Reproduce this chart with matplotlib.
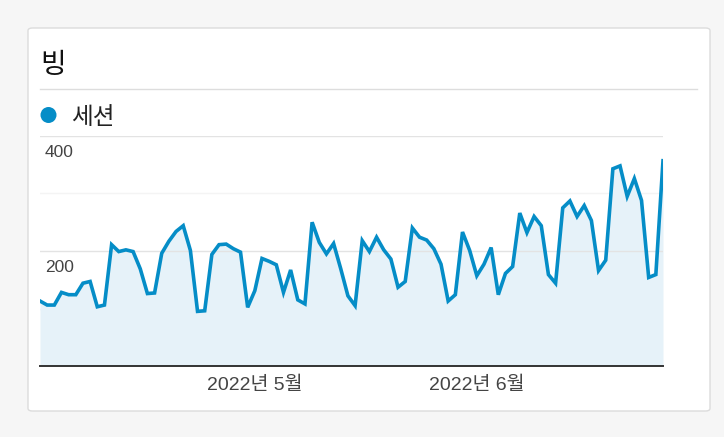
import matplotlib
matplotlib.use("Agg")
import matplotlib.pyplot as plt
from matplotlib.patches import FancyBboxPatch, Ellipse
from matplotlib.lines import Line2D
import pandas as pd

# ---- data ----
start_date = "2022-04-01"
sessions = [113, 106, 106, 128, 124, 124, 144, 147, 103, 106,
            211, 199, 202, 199, 169, 126, 127, 196, 217, 234,
            244, 201, 95, 96, 194, 211, 212, 204, 198, 102,
            131, 187, 182, 176, 128, 167, 115, 108, 250, 215,
            195, 213, 169, 122, 105, 218, 199, 224, 202, 186,
            137, 147, 240, 224, 219, 204, 177, 113, 124, 233,
            201, 157, 177, 206, 124, 161, 173, 266, 232, 260,
            244, 159, 144, 275, 287, 260, 279, 253, 166, 184,
            343, 348, 295, 326, 288, 154, 159, 357]
tick_dates = ["2022-05-01", "2022-06-01"]
tick_labels = ["2022년 5월", "2022년 6월"]
ytick_vals = [400, 200]
ytick_labels = ["400", "200"]
title = "빙"
series_name = "세션"

dates = pd.date_range(start_date, periods=len(sessions), freq="D")

LINE = "#058dc7"
FILL = "#e6f2f9"
TXT = "#444444"
FONT = ["Liberation Sans", "Noto Sans CJK KR", "DejaVu Sans"]
plt.rcParams["font.family"] = FONT

W, H = 724, 437
fig = plt.figure(figsize=(W / 100, H / 100), dpi=100, facecolor="#f6f6f6")

def fx(px):
    return px / W

def fy(py):
    return 1 - py / H

# card
card = FancyBboxPatch((fx(28), fy(411)), fx(710) - fx(28), fy(28) - fy(411),
                      boxstyle="round,pad=0,rounding_size=0.006",
                      transform=fig.transFigure, facecolor="white",
                      edgecolor="#dcdcdc", linewidth=1.0, zorder=-10)
fig.patches.append(card)

# title
fig.text(fx(40), fy(65), title, fontsize=20, color="#111111",
         va="center", ha="left", family=["Noto Sans CJK KR"])
# divider
fig.add_artist(Line2D([fx(40), fx(697)], [fy(88.5), fy(88.5)],
                      transform=fig.transFigure, color="#dddddd", lw=1.0))
# legend
fig.add_artist(Ellipse((fx(48.5), fy(115)), width=16 / W, height=16 / H,
                       transform=fig.transFigure, facecolor=LINE,
                       edgecolor="none"))
fig.text(fx(71), fy(117), series_name, fontsize=17, color="#222222",
         va="center", ha="left", family=["Noto Sans CJK KR"])

# axes
ax = fig.add_axes([fx(40), fy(366), fx(663) - fx(40), fy(136) - fy(366)],
                  zorder=5)
ax.set_facecolor("none")
ax.plot(dates, sessions, color=LINE, lw=2.6, zorder=3, solid_joinstyle="miter")
ax.fill_between(dates, sessions, 0, color=FILL, zorder=1, lw=0)
ax.set_xlim(dates[0], dates[-1])
ax.set_ylim(0, 400)

for v in [100, 300]:
    ax.axhline(v, color="#f4f4f4", lw=1.0, zorder=0.5)
for v in ytick_vals:
    ax.axhline(v, color="#e3e3e3", lw=1.0, zorder=2)

for v, lab in zip(ytick_vals, ytick_labels):
    ax.annotate(lab, xy=(0, v), xycoords=("axes fraction", "data"),
                xytext=(5, -17), textcoords="offset pixels",
                fontsize=12.5, color=TXT, ha="left", va="center", zorder=4)

ax.set_yticks([])
ax.set_xticks(pd.to_datetime(tick_dates))
ax.set_xticklabels(tick_labels, fontsize=14, color=TXT)
ax.tick_params(axis="x", length=0, pad=8)
for s in ["top", "left", "right"]:
    ax.spines[s].set_visible(False)
ax.spines["bottom"].set_color("#333333")
ax.spines["bottom"].set_linewidth(1.4)
ax.spines["bottom"].set_zorder(5)

fig.savefig("out.png", dpi=100, facecolor=fig.get_facecolor())
